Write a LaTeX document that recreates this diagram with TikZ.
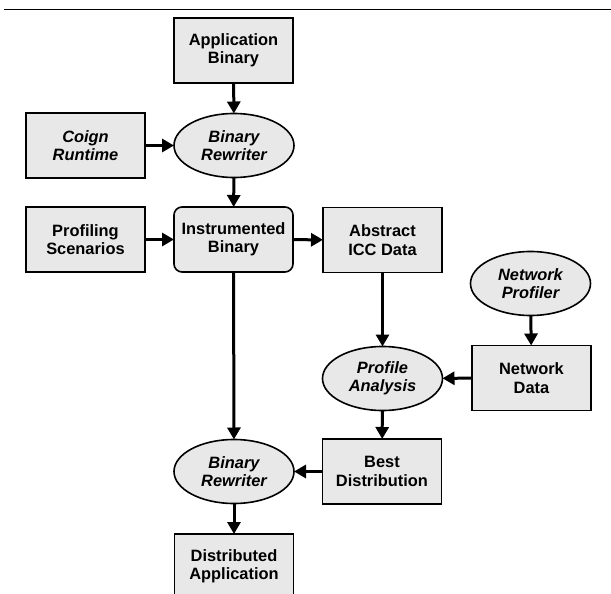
\documentclass[tikz,border=0pt]{standalone}
\usepackage{fontspec}
\setmainfont{Liberation Sans}
\usetikzlibrary{arrows.meta,shapes.geometric}
\definecolor{boxfill}{HTML}{E8E8E8}
\begin{document}
\begin{tikzpicture}[x=1pt,y=-1pt,
  base/.style={draw=black, line width=1.6pt, fill=boxfill, outer sep=0pt, inner sep=0pt,
    align=center, font=\fontsize{16.4}{18.5}\selectfont\bfseries},
  rect/.style={base, rectangle, minimum width=119pt, minimum height=65pt},
  itext/.style={font=\fontsize{16.4}{18.5}\selectfont\bfseries\itshape},
  rrect/.style={rect, rounded corners=8pt},
  oval/.style={base, ellipse, minimum width=120pt, minimum height=64pt, itext},
  arr/.style={line width=3pt, -{Triangle[length=12pt,width=13pt]}}
]
\useasboundingbox (0,0) rectangle (611,594);
\coordinate (la) at (4,10);
\coordinate (lb) at (611,10);
\draw[line width=1pt] (la) -- (lb);

\node[rect] (app) at (233.5,50.5) {Application\\Binary};
\node[rect, itext] (coign) at (85.5,145.5) {Coign\\Runtime};
\node[oval] (br1) at (234,145.5) {Binary\\Rewriter};
\node[rect] (prof) at (85.5,239.5) {Profiling\\Scenarios};
\node[rrect] (inst) at (233.5,239.5) {Instrumented\\Binary};
\node[rect] (icc) at (382.5,240) {Abstract\\ICC Data};
\node[oval] (np) at (530.5,283.5) {Network\\Profiler};
\node[rect] (nd) at (531.5,378) {Network\\Data};
\node[oval] (pa) at (382.5,378.5) {Profile\\Analysis};
\node[rect] (best) at (382,471.5) {Best\\Distribution};
\node[oval] (br2) at (234,471.5) {Binary\\Rewriter};
\node[rect] (dist) at (234,566.5) {Distributed\\Application};

\draw[arr] (app) -- (br1);
\draw[arr] (coign) -- (br1);
\draw[arr] (br1) -- (inst);
\draw[arr] (prof) -- (inst);
\draw[arr] (inst) -- (icc);
\draw[arr] (icc) -- (pa);
\draw[arr] (np) -- (nd);
\draw[arr] (nd) -- (pa);
\draw[arr] (pa) -- (best);
\draw[arr] (inst) -- (br2);
\draw[arr] (best) -- (br2);
\draw[arr] (br2) -- (dist);
\end{tikzpicture}
\end{document}
